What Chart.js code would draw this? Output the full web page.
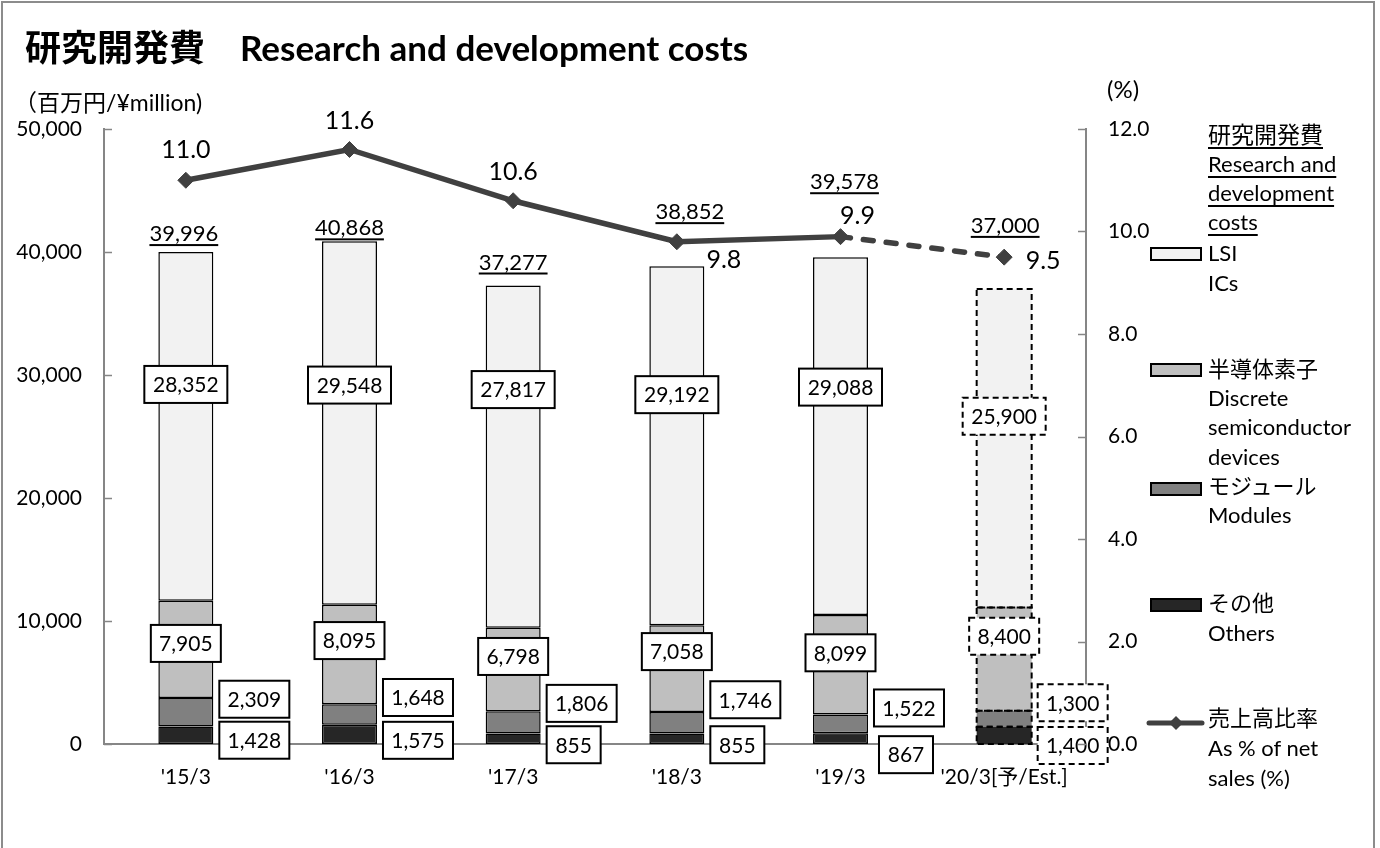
<!DOCTYPE html>
<html>
<head>
<meta charset="utf-8">
<script src="https://cdn.jsdelivr.net/npm/chart.js@4.4.1/dist/chart.umd.min.js"></script>
<style>
  body { margin: 0; background: #fff; font-family: Lato, 'Noto Sans CJK JP', sans-serif; }
  #wrap { position: relative; width: 1380px; height: 848px; overflow: hidden; }
  #frame { position: absolute; left: 1px; top: 1px; width: 1374px; height: 900px; border: 2px solid #8c8c8c; box-sizing: border-box; }
  canvas { position: absolute; left: 0; top: 0; }
  .t { position: absolute; white-space: nowrap; color: #000; height: 30px; line-height: 30px; font-size: 22px; }
  .u { text-decoration: underline; text-underline-offset: 4px; text-decoration-thickness: 2px; }
  .sw { position: absolute; width: 48px; height: 10px; border: 2px solid #000; }
</style>
</head>
<body>
<div id="wrap">
  <div id="frame"></div>
  <canvas id="rdChart" width="1380" height="848"></canvas>

  <div class="t" style="left:25px; top:29px; font-size:36px; font-weight:bold; height:36px; line-height:36px;">研究開発費</div>
  <div class="t" style="left:240px; top:29px; font-size:35px; font-weight:bold; height:36px; line-height:36px;">Research and development costs</div>
  <div class="t" style="left:14px; top:87px; font-size:23px;">（百万円/¥million)</div>
  <div class="t" style="left:1107px; top:74px; font-size:24px;">(%)</div>

  <!-- legend -->
  <div class="t u" style="left:1208px; top:119px; font-size:23px;">研究開発費</div>
  <div class="t u" style="left:1208px; top:149px;">Research and</div>
  <div class="t u" style="left:1208px; top:178px;">development</div>
  <div class="t u" style="left:1208px; top:207px;">costs</div>

  <div class="sw" style="left:1150px; top:247px; background:#f2f2f2;"></div>
  <div class="t" style="left:1208px; top:238px;">LSI</div>
  <div class="t" style="left:1208px; top:268px;">ICs</div>

  <div class="sw" style="left:1150px; top:363px; background:#bfbfbf;"></div>
  <div class="t" style="left:1208px; top:354px;">半導体素子</div>
  <div class="t" style="left:1208px; top:383px;">Discrete</div>
  <div class="t" style="left:1208px; top:412px;">semiconductor</div>
  <div class="t" style="left:1208px; top:442px;">devices</div>

  <div class="sw" style="left:1150px; top:482px; background:#808080;"></div>
  <div class="t" style="left:1208px; top:471px;">モジュール</div>
  <div class="t" style="left:1208px; top:500px;">Modules</div>

  <div class="sw" style="left:1150px; top:598px; background:#262626;"></div>
  <div class="t" style="left:1208px; top:588px;">その他</div>
  <div class="t" style="left:1208px; top:618px;">Others</div>

  <svg style="position:absolute; left:1140px; top:710px;" width="70" height="26">
    <line x1="9" y1="13" x2="62" y2="13" stroke="#404040" stroke-width="5" stroke-linecap="round"/>
    <polygon points="36,6 43,13 36,20 29,13" fill="#404040"/>
  </svg>
  <div class="t" style="left:1208px; top:703px;">売上高比率</div>
  <div class="t" style="left:1208px; top:733px;">As % of net</div>
  <div class="t" style="left:1208px; top:763px;">sales (%)</div>
</div>

<script>
// Chart data
const categories = ["'15/3", "'16/3", "'17/3", "'18/3", "'19/3", "'20/3[予/Est.]"];
const lsi = [28352, 29548, 27817, 29192, 29088, 25900];
const discrete = [7905, 8095, 6798, 7058, 8099, 8400];
const modules = [2309, 1648, 1806, 1746, 1522, 1300];
const others = [1428, 1575, 855, 855, 867, 1400];
const totals = [39996, 40868, 37277, 38852, 39578, 37000];
const ratio = [11.0, 11.6, 10.6, 9.8, 9.9, 9.5];
const estimateIndex = 5; // the forecast year is drawn with dashed outlines

const FONT = "Lato, 'Noto Sans CJK JP', sans-serif";
const AXIS_GRAY = '#868686';

// label placement tweaks in pixels (relative to the element they belong to)
const nudge = {
    lsi: [-42, -38, -67, -51, -49, -32],
    discrete: [-6, -14, -13, -17, -12, -23],
    modules: [-13, -17, -19, -23, -16, -16],
    others: [5, 6, 6, 6, 16, 10],
    othersX: [0, 0, 0, 0, 5, 0],
    total: [[-2, -18], [0, -13], [0, -23], [13, -54], [4, -75], [1, -63]],
    ratio: [[0, -30], [0, -29], [0, -29], [47, 18], [17, -21], [39, 4]]
};

const fmt = v => v.toLocaleString('en-US');

function drawBox(ctx, text, cx, cy, dashed, leftAligned) {
    ctx.save();
    ctx.font = '21px ' + FONT;
    const w = Math.round(ctx.measureText(text).width + 17);
    const h = 37;
    const x = leftAligned ? cx : cx - w / 2;
    ctx.fillStyle = '#fff';
    ctx.fillRect(x, cy - h / 2, w, h);
    ctx.lineWidth = 2;
    ctx.strokeStyle = '#000';
    ctx.setLineDash(dashed ? [6, 4] : []);
    ctx.strokeRect(x, cy - h / 2, w, h);
    ctx.fillStyle = '#000';
    ctx.textAlign = 'center';
    ctx.textBaseline = 'middle';
    ctx.fillText(text, x + w / 2, cy + 1);
    ctx.restore();
}

const labelPlugin = {
    id: 'labelPlugin',
    afterDatasetsDraw(chart) {
        const ctx = chart.ctx;

        // dashed outlines for the forecast bar
        for (let d = 0; d < 4; d++) {
            const bar = chart.getDatasetMeta(d).data[estimateIndex];
            const top = Math.min(bar.y, bar.base);
            const hgt = Math.abs(bar.base - bar.y);
            ctx.save();
            ctx.strokeStyle = '#000';
            ctx.lineWidth = 2;
            ctx.setLineDash([6, 4]);
            ctx.strokeRect(bar.x - bar.width / 2, top, bar.width, hgt);
            ctx.restore();
        }

        const othersMeta = chart.getDatasetMeta(0);
        const modulesMeta = chart.getDatasetMeta(1);
        const discreteMeta = chart.getDatasetMeta(2);
        const lsiMeta = chart.getDatasetMeta(3);
        const lineMeta = chart.getDatasetMeta(4);

        categories.forEach((c, i) => {
            const dashed = i === estimateIndex;
            const mid = el => (el.y + el.base) / 2;

            const l = lsiMeta.data[i];
            drawBox(ctx, fmt(lsi[i]), l.x, mid(l) + nudge.lsi[i], dashed);

            const ds = discreteMeta.data[i];
            drawBox(ctx, fmt(discrete[i]), ds.x, mid(ds) + nudge.discrete[i], dashed);

            const m = modulesMeta.data[i];
            drawBox(ctx, fmt(modules[i]), m.x + m.width / 2 + 6, mid(m) + nudge.modules[i], dashed, true);

            const o = othersMeta.data[i];
            drawBox(ctx, fmt(others[i]), o.x + o.width / 2 + 6 + nudge.othersX[i], mid(o) + nudge.others[i], dashed, true);

            // totals, underlined
            ctx.save();
            ctx.font = '22px ' + FONT;
            ctx.fillStyle = '#000';
            ctx.textAlign = 'center';
            ctx.textBaseline = 'middle';
            const tx = l.x + nudge.total[i][0];
            const ty = l.y + nudge.total[i][1];
            const txt = fmt(totals[i]);
            const tw = ctx.measureText(txt).width;
            ctx.fillText(txt, tx, ty);
            ctx.fillRect(tx - tw / 2, ty + 10, tw, 2);
            ctx.restore();

            // ratio labels
            const p = lineMeta.data[i];
            ctx.save();
            ctx.font = '25px ' + FONT;
            ctx.fillStyle = '#000';
            ctx.textAlign = 'center';
            ctx.textBaseline = 'middle';
            ctx.fillText(ratio[i].toFixed(1), p.x + nudge.ratio[i][0], p.y + nudge.ratio[i][1]);
            ctx.restore();
        });
    },
    afterDraw(chart) {
        // short inward tick marks on both value axes
        const ctx = chart.ctx;
        const area = chart.chartArea;
        ctx.save();
        ctx.strokeStyle = AXIS_GRAY;
        ctx.lineWidth = 1.5;
        ctx.beginPath();
        chart.scales.y.ticks.forEach(t => {
            const py = Math.round(chart.scales.y.getPixelForValue(t.value)) + 0.5;
            ctx.moveTo(area.left, py);
            ctx.lineTo(area.left + 8, py);
        });
        chart.scales.y1.ticks.forEach(t => {
            const py = Math.round(chart.scales.y1.getPixelForValue(t.value)) + 0.5;
            ctx.moveTo(area.right - 8, py);
            ctx.lineTo(area.right, py);
        });
        ctx.stroke();
        ctx.restore();
    }
};

Chart.defaults.font.family = FONT;
Chart.defaults.font.size = 21;
Chart.defaults.color = '#000';

const barDefaults = {
    type: 'bar',
    stack: 'rd',
    yAxisID: 'y',
    order: 1,
    borderColor: '#000',
    borderWidth: ctx => ctx.dataIndex === estimateIndex ? 0 : 1.5,
    borderSkipped: false,
    categoryPercentage: 1,
    barPercentage: 0.336
};

new Chart(document.getElementById('rdChart'), {
    data: {
        labels: categories,
        datasets: [
            { ...barDefaults, label: 'その他 Others', data: others, backgroundColor: '#262626' },
            { ...barDefaults, label: 'モジュール Modules', data: modules, backgroundColor: '#808080' },
            { ...barDefaults, label: '半導体素子 Discrete semiconductor devices', data: discrete, backgroundColor: '#bfbfbf' },
            { ...barDefaults, label: 'LSI ICs', data: lsi, backgroundColor: '#f2f2f2' },
            {
                type: 'line',
                label: '売上高比率 As % of net sales (%)',
                data: ratio,
                yAxisID: 'y1',
                order: 0,
                borderColor: '#404040',
                borderWidth: 5.5,
                borderCapStyle: 'round',
                tension: 0,
                pointStyle: 'rectRot',
                pointRadius: 8,
                pointHoverRadius: 8,
                pointBackgroundColor: '#404040',
                pointBorderColor: '#404040',
                pointBorderWidth: 1,
                segment: {
                    borderDash: ctx => ctx.p1DataIndex === estimateIndex ? [10, 13] : undefined
                }
            }
        ]
    },
    options: {
        responsive: false,
        animation: false,
        devicePixelRatio: 1,
        layout: { padding: { top: 129, left: 0, right: 0, bottom: 0 } },
        plugins: {
            legend: { display: false },
            tooltip: { enabled: false }
        },
        scales: {
            x: {
                stacked: true,
                grid: { display: false },
                border: { display: true, color: AXIS_GRAY, width: 2 },
                ticks: { padding: 13, maxRotation: 0, autoSkip: false },
                afterFit: s => { s.height = 104; }
            },
            y: {
                stacked: true,
                position: 'left',
                min: 0,
                max: 50000,
                ticks: { stepSize: 10000, padding: 14, callback: v => fmt(v) },
                grid: { display: false },
                border: { display: true, color: AXIS_GRAY, width: 2 },
                afterFit: s => { s.width = 104; }
            },
            y1: {
                position: 'right',
                min: 0,
                max: 12,
                ticks: { stepSize: 2, padding: 14, callback: v => v.toFixed(1) },
                grid: { display: false },
                border: { display: true, color: AXIS_GRAY, width: 2 },
                afterFit: s => { s.width = 294; }
            }
        }
    },
    plugins: [labelPlugin]
});
</script>
</body>
</html>
